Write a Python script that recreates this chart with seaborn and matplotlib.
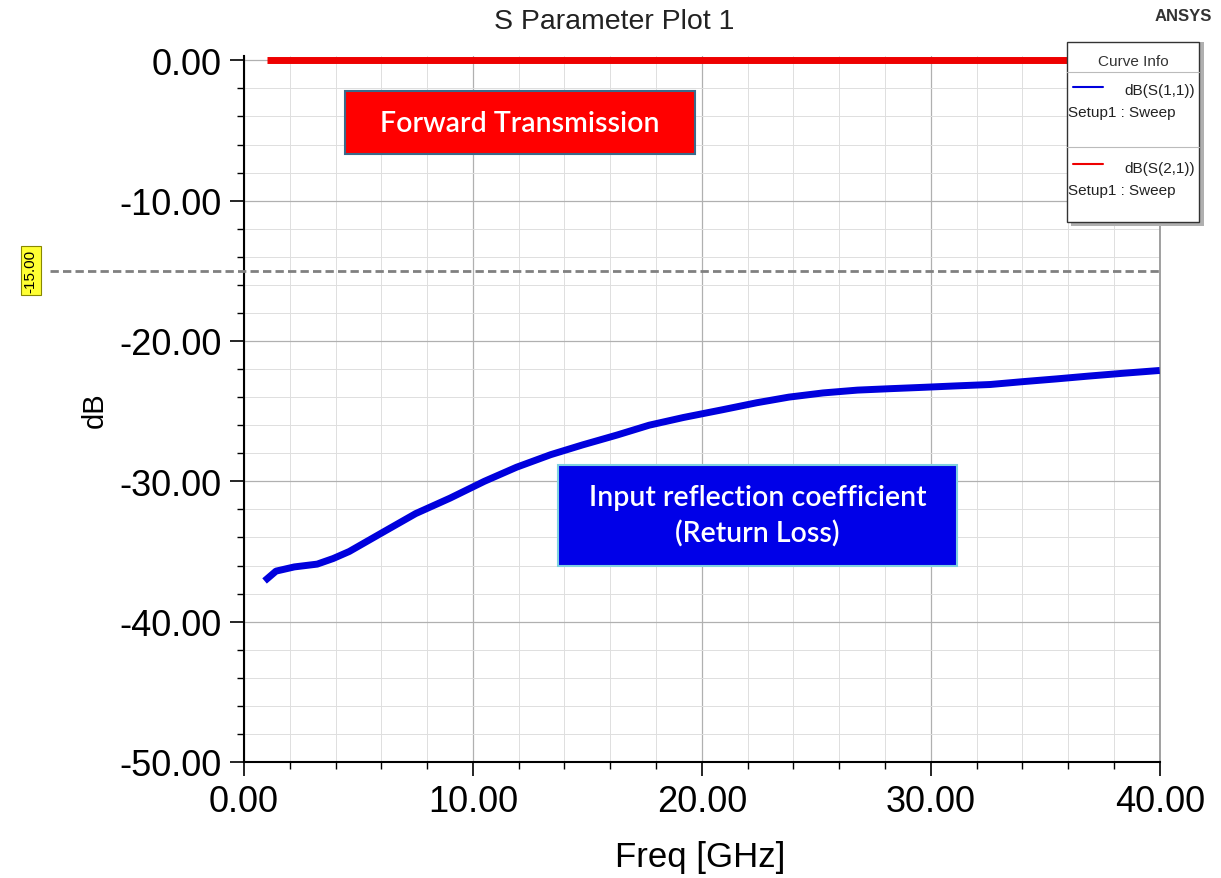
import pandas as pd
import matplotlib.pyplot as plt
import matplotlib.ticker as mticker
from matplotlib.patches import Rectangle
from matplotlib.lines import Line2D
import seaborn as sns

# data
freq_s11 = [0.9, 1.4, 2.2, 3.2, 3.9, 4.6, 6.1, 7.5, 9.0, 10.5, 11.9, 13.4, 14.8, 16.3,
            17.7, 19.2, 20.9, 22.4, 23.8, 25.3, 26.8, 28.2, 29.7, 31.1, 32.6, 34.0,
            35.5, 36.9, 38.4, 40.0]
s11_db = [-37.1, -36.4, -36.1, -35.9, -35.5, -35.0, -33.6, -32.3, -31.2, -30.0, -29.0,
          -28.1, -27.4, -26.7, -26.0, -25.45, -24.9, -24.4, -24.0, -23.7, -23.5, -23.4,
          -23.3, -23.2, -23.1, -22.9, -22.7, -22.5, -22.3, -22.1]
freq_s21 = [1.0, 40.0]
s21_db = [0.0, 0.0]
curve_names = ['dB(S(1,1))', 'dB(S(2,1))']
curve_colors = ['#0000dd', '#ee0000']
marker_db = -15.0
x_ticks = [0, 10, 20, 30, 40]
y_ticks = [-50, -40, -30, -20, -10, 0]

df = pd.concat([
    pd.DataFrame({'freq': freq_s11, 'db': s11_db, 'curve': curve_names[0]}),
    pd.DataFrame({'freq': freq_s21, 'db': s21_db, 'curve': curve_names[1]}),
])

sns.set_theme(style="white")
plt.rcParams['font.family'] = ['Liberation Sans', 'DejaVu Sans']
plt.rcParams['text.color'] = 'black'
plt.rcParams['xtick.color'] = 'black'
plt.rcParams['ytick.color'] = 'black'
plt.rcParams['axes.labelcolor'] = 'black'

fig = plt.figure(figsize=(12.21, 8.79), dpi=100)
ax = fig.add_axes([0.1998, 0.132, 0.750, 0.803])

sns.lineplot(data=df, x='freq', y='db', hue='curve', palette=dict(zip(curve_names, curve_colors)),
             linewidth=5, legend=False, ax=ax, zorder=5)
for ln in ax.lines:
    ln.set_clip_on(False)
    ln.set_solid_capstyle('butt')
    ln.set_solid_joinstyle('round')

ax.set_xlim(0, 40)
ax.set_ylim(-50, 0.3)
ax.set_xticks(x_ticks)
ax.set_yticks(y_ticks)
ax.xaxis.set_minor_locator(mticker.MultipleLocator(2))
ax.yaxis.set_minor_locator(mticker.MultipleLocator(2))
ax.xaxis.set_major_formatter(mticker.FormatStrFormatter('%.2f'))
ax.yaxis.set_major_formatter(mticker.FormatStrFormatter('%.2f'))
ax.tick_params(axis='both', which='major', direction='out', length=10, width=1.2,
               color='black', labelsize=26, pad=6, left=True, bottom=True)
ax.tick_params(axis='both', which='minor', direction='out', length=5, width=1,
               color='black', left=True, bottom=True)
ax.grid(True, which='major', color='#b0b0b0', linewidth=0.9)
ax.grid(True, which='minor', color='#dedede', linewidth=0.7)
ax.set_axisbelow(True)

for side in ['left', 'bottom']:
    ax.spines[side].set_color('black')
    ax.spines[side].set_linewidth(1.5)
ax.spines['right'].set_color('#909090')
ax.spines['right'].set_linewidth(1.2)
ax.spines['top'].set_visible(False)

ax.set_xlabel('Freq [GHz]', fontsize=25)
ax.set_ylabel('dB', fontsize=21)
ax.xaxis.set_label_coords(0.498, -0.110)
ax.yaxis.set_label_coords(-0.148, 0.5)

# -15 dB marker line and its yellow tag
ax.axhline(marker_db, xmin=-0.212, xmax=1.0, color='#808080', linestyle=(0, (3, 1.5)),
           linewidth=2, clip_on=False, zorder=3)
ax.text(-0.233, marker_db, '-15.00', transform=ax.get_yaxis_transform(), rotation=90,
        ha='center', va='center', fontsize=11,
        bbox=dict(boxstyle='square,pad=0.2', facecolor='#ffff33', edgecolor='#888800', linewidth=0.8))

# annotation boxes
ax.add_patch(Rectangle((0.110, 0.861), 0.382, 0.089, transform=ax.transAxes,
                       facecolor='#ff0000', edgecolor='#3a6a8a', linewidth=1.5, zorder=6))
ax.text(0.110 + 0.191, 0.861 + 0.0445, 'Forward Transmission', transform=ax.transAxes,
        ha='center', va='center', color='white', fontsize=20.5, fontweight='semibold',
        family=['Lato', 'DejaVu Sans'], zorder=7)
ax.add_patch(Rectangle((0.343, 0.278), 0.436, 0.143, transform=ax.transAxes,
                       facecolor='#0000e8', edgecolor='#7fd0e0', linewidth=1.5, zorder=6))
ax.text(0.343 + 0.218, 0.278 + 0.0715, 'Input reflection coefficient\n(Return Loss)',
        transform=ax.transAxes, ha='center', va='center', color='white', fontsize=20.5,
        fontweight='semibold', family=['Lato', 'DejaVu Sans'], linespacing=1.4, zorder=7)

# title and logo
fig.text(0.503, 0.975, 'S Parameter Plot 1', ha='center', va='center', fontsize=20.5, color='#222222')
fig.text(0.969, 0.981, 'ANSYS', ha='center', va='center', fontsize=12, fontweight='bold', color='#333333')

# Curve Info box
fig.add_artist(Rectangle((0.877, 0.742), 0.109, 0.209, transform=fig.transFigure,
                         facecolor='#b0b0b0', edgecolor='none', zorder=8))
fig.add_artist(Rectangle((0.874, 0.746), 0.108, 0.205, transform=fig.transFigure,
                         facecolor='white', edgecolor='#333333', linewidth=1, zorder=9))
fig.text(0.928, 0.929, 'Curve Info', ha='center', va='center', fontsize=11, color='#333333', zorder=10)
for yy in [0.917, 0.832]:
    fig.add_artist(Line2D([0.874, 0.982], [yy, yy], transform=fig.transFigure,
                          color='#bbbbbb', linewidth=0.8, zorder=10))
for name, col, yy in zip(curve_names, curve_colors, [0.900, 0.812]):
    fig.add_artist(Line2D([0.879, 0.903], [yy, yy], transform=fig.transFigure,
                          color=col, linewidth=1.5, zorder=10))
    fig.text(0.979, yy - 0.004, name, ha='right', va='center', fontsize=11, color='#222222', zorder=10)
    fig.text(0.875, yy - 0.029, 'Setup1 : Sweep', ha='left', va='center', fontsize=11,
             color='#222222', zorder=10)

plt.savefig('out.png', dpi=100)
